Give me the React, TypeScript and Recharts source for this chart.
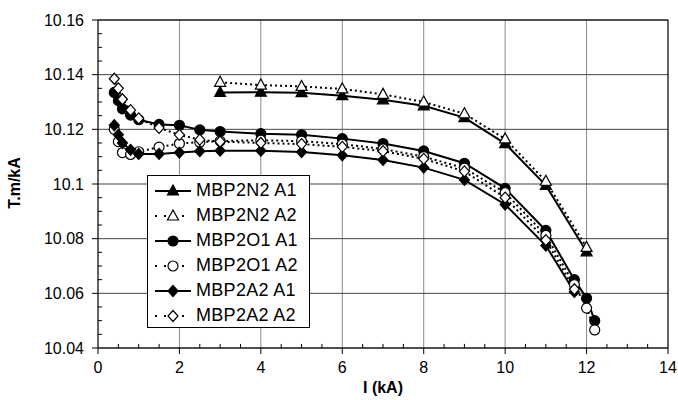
import React from "react";
import {
  LineChart,
  Line,
  XAxis,
  YAxis,
  CartesianGrid,
  Legend,
  ReferenceLine,
} from "recharts";

// MBP2N2 (triangles)
const n2X = [3, 4, 5, 6, 7, 8, 9, 10, 11, 12];
const n2A1 = [10.1335, 10.1336, 10.1334, 10.1323, 10.1308, 10.1286, 10.1243, 10.1148, 10.0995, 10.0752];
const n2A2 = [10.1372, 10.1362, 10.1357, 10.1348, 10.1328, 10.13, 10.1257, 10.1165, 10.101, 10.0768];

// MBP2O1 (circles)
const o1X = [0.4, 0.5, 0.6, 0.8, 1, 1.5, 2, 2.5, 3, 4, 5, 6, 7, 8, 9, 10, 11, 11.7, 12, 12.2];
const o1A1 = [10.1335, 10.1305, 10.1275, 10.1252, 10.1235, 10.1218, 10.1215, 10.1198, 10.1192, 10.1184, 10.118, 10.1166, 10.1148, 10.1121, 10.1076, 10.0984, 10.083, 10.065, 10.0582, 10.05];
const o1A2 = [10.12, 10.1155, 10.1115, 10.1108, 10.1118, 10.1135, 10.1148, 10.1153, 10.1157, 10.116, 10.1157, 10.1146, 10.1128, 10.11, 10.1058, 10.0968, 10.0812, 10.0632, 10.0546, 10.0466];

// MBP2A2 (diamonds)
const a2X = [0.4, 0.5, 0.6, 0.8, 1, 1.5, 2, 2.5, 3, 4, 5, 6, 7, 8, 9, 10, 11, 11.7];
const a2A1 = [10.1215, 10.118, 10.115, 10.1125, 10.111, 10.111, 10.1115, 10.112, 10.1122, 10.1122, 10.1117, 10.1105, 10.1088, 10.106, 10.1015, 10.0925, 10.0775, 10.0605];
const a2A2 = [10.1385, 10.135, 10.131, 10.127, 10.124, 10.1205, 10.118, 10.1162, 10.1155, 10.115, 10.1146, 10.1136, 10.112, 10.1092, 10.1046, 10.095, 10.0795, 10.0615];

const xTicks = [0, 2, 4, 6, 8, 10, 12, 14];
const yTicks = [10.04, 10.06, 10.08, 10.1, 10.12, 10.14, 10.16];
const xMinorTicks = [0.5, 1, 1.5, 2.5, 3, 3.5, 4.5, 5, 5.5, 6.5, 7, 7.5, 8.5, 9, 9.5, 10.5, 11, 11.5, 12.5, 13, 13.5];
const yMinorTicks = [
  10.045, 10.05, 10.055, 10.065, 10.07, 10.075, 10.085, 10.09, 10.095,
  10.105, 10.11, 10.115, 10.125, 10.13, 10.135, 10.145, 10.15, 10.155,
];

const FONT = "'Liberation Sans', Arial, sans-serif";

const toRows = (xs: number[], ys: number[]) => xs.map((x, i) => ({ x, y: ys[i] }));

type Shape = "triangle" | "circle" | "diamond";

const series = [
  { name: "MBP2N2 A1", shape: "triangle" as Shape, filled: true, data: toRows(n2X, n2A1) },
  { name: "MBP2N2 A2", shape: "triangle" as Shape, filled: false, data: toRows(n2X, n2A2) },
  { name: "MBP2O1 A1", shape: "circle" as Shape, filled: true, data: toRows(o1X, o1A1) },
  { name: "MBP2O1 A2", shape: "circle" as Shape, filled: false, data: toRows(o1X, o1A2) },
  { name: "MBP2A2 A1", shape: "diamond" as Shape, filled: true, data: toRows(a2X, a2A1) },
  { name: "MBP2A2 A2", shape: "diamond" as Shape, filled: false, data: toRows(a2X, a2A2) },
];

function marker(shape: Shape, filled: boolean, cx: number, cy: number, key?: string) {
  const fill = filled ? "#000" : "#fff";
  const common = { fill, stroke: "#000", strokeWidth: 1.2 };
  if (shape === "circle") return <circle key={key} cx={cx} cy={cy} r={5} {...common} />;
  if (shape === "triangle")
    return (
      <polygon
        key={key}
        points={`${cx},${cy - 6} ${cx - 5.5},${cy + 4} ${cx + 5.5},${cy + 4}`}
        {...common}
      />
    );
  return (
    <polygon
      key={key}
      points={`${cx},${cy - 5.5} ${cx + 5},${cy} ${cx},${cy + 5.5} ${cx - 5},${cy}`}
      {...common}
    />
  );
}

const renderLegend = () => (
  <div
    style={{
      background: "#fff",
      border: "1px solid #000",
      width: 163,
      height: 153,
      boxSizing: "border-box",
      padding: "2px 0 0 5px",
      fontFamily: FONT,
    }}
  >
    {series.map((s) => (
      <div key={s.name} style={{ display: "flex", alignItems: "center", height: 25 }}>
        <svg width={40} height={20}>
          <line
            x1={2}
            x2={38}
            y1={10}
            y2={10}
            stroke="#000"
            strokeWidth={2}
            strokeDasharray={s.filled ? undefined : "2 7"}
          />
          {marker(s.shape, s.filled, 20, 10)}
        </svg>
        <span style={{ fontSize: 18, marginLeft: 3, color: "#000", letterSpacing: 0.3 }}>{s.name}</span>
      </div>
    ))}
  </div>
);

export default function App() {
  return (
    <div style={{ position: "absolute", left: 0, top: 0, background: "#fff" }}>
      <LineChart width={678} height={400} margin={{ top: 20, right: 10, bottom: 0, left: 0 }}>
        <CartesianGrid horizontal={false} stroke="#8a8a8a" />
        <CartesianGrid vertical={false} stroke="#444" />
        <XAxis
          dataKey="x"
          type="number"
          domain={[0, 14]}
          ticks={xTicks}
          allowDataOverflow
          height={52}
          stroke="#000"
          tickSize={6}
          tickMargin={8}
          tick={{ fill: "#000", fontSize: 16, fontFamily: FONT }}
          label={{
            content: () => (
              <text x={383} y={393} textAnchor="middle" fontSize={16} fontWeight="bold" fontFamily={FONT} fill="#000">
                I (kA)
              </text>
            ),
          }}
        />
        <YAxis
          type="number"
          domain={[10.04, 10.16]}
          ticks={yTicks}
          allowDataOverflow
          width={98}
          stroke="#000"
          tickSize={6}
          tickMargin={8}
          tickFormatter={(v: number) => String(Number(v.toFixed(2)))}
          tick={{ fill: "#000", fontSize: 16, fontFamily: FONT }}
          label={{
            content: () => (
              <text
                x={20}
                y={183}
                transform="rotate(-90 20 183)"
                textAnchor="middle"
                fontSize={16}
                fontWeight="bold"
                fontFamily={FONT}
                fill="#000"
              >
                T.m/kA
              </text>
            ),
          }}
        />
        <ReferenceLine x={14} stroke="#000" />
        <ReferenceLine y={10.16} stroke="#000" />
        {/* minor tick marks, short inward segments on the axes */}
        {xMinorTicks.map((v) => (
          <ReferenceLine
            key={`mx-${v}`}
            segment={[
              { x: v, y: 10.04 },
              { x: v, y: 10.0415 },
            ]}
            stroke="#000"
          />
        ))}
        {yMinorTicks.map((v) => (
          <ReferenceLine
            key={`my-${v}`}
            segment={[
              { x: 0, y: v },
              { x: 0.1, y: v },
            ]}
            stroke="#000"
          />
        ))}
        {series.map((s) => (
          <Line
            key={s.name}
            data={s.data}
            dataKey="y"
            name={s.name}
            type="linear"
            stroke="#000"
            strokeWidth={2}
            strokeDasharray={s.filled ? undefined : "2 3"}
            isAnimationActive={false}
            dot={(p: any) => marker(s.shape, s.filled, p.cx, p.cy, `${s.name}-${p.index}`)}
          />
        ))}
        <Legend
          layout="vertical"
          align="center"
          verticalAlign="middle"
          content={renderLegend}
          wrapperStyle={{ left: 147, top: 175, width: 163, height: 153 }}
        />
      </LineChart>
    </div>
  );
}
